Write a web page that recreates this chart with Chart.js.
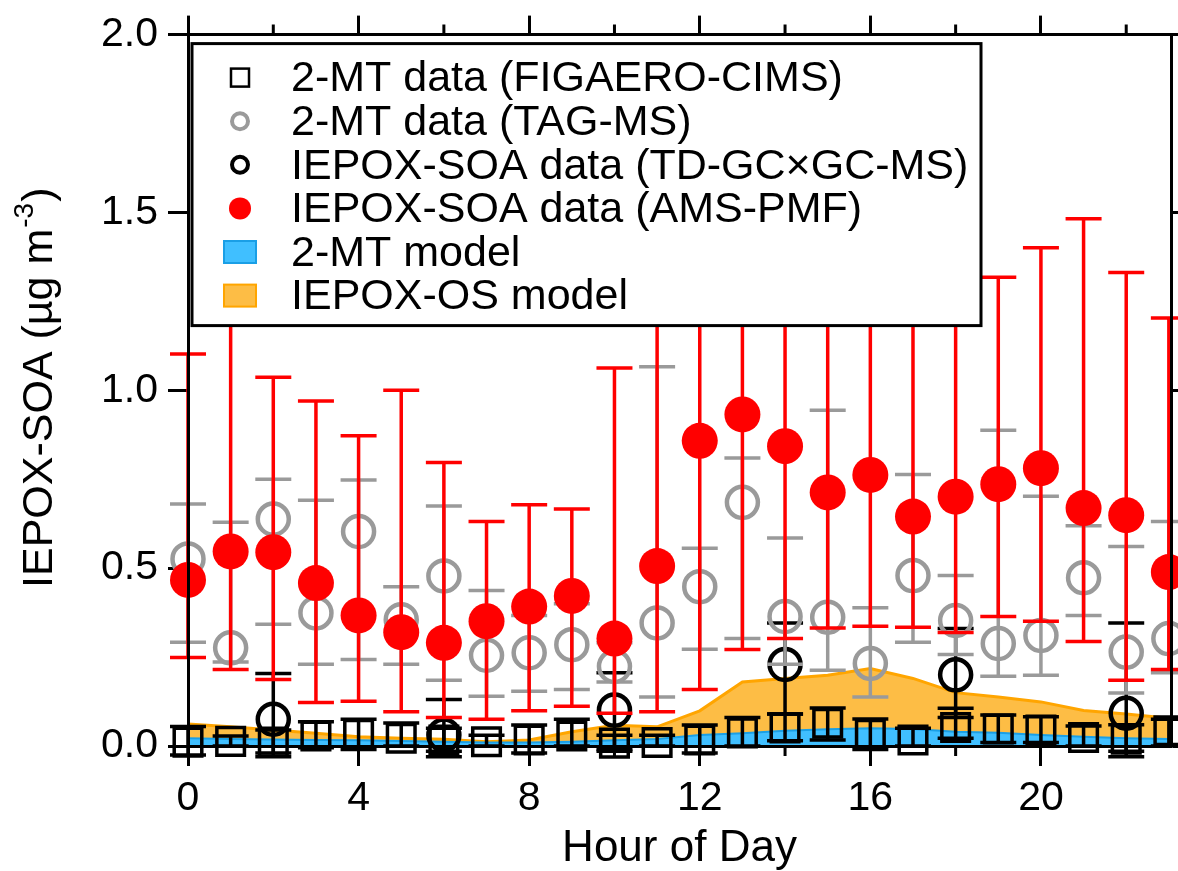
<!DOCTYPE html>
<html lang="en">
<head>
<meta charset="UTF-8">
<title>IEPOX-SOA diurnal cycle</title>
<script src="https://cdn.jsdelivr.net/npm/chart.js"></script>
<style>
  html, body { margin: 0; padding: 0; background: #fff; }
  canvas { display: block; }
</style>
</head>
<body>
<canvas id="soaChart" width="1178" height="871"></canvas>
<script>
// hour of day
const hours = [0,1,2,3,4,5,6,7,8,9,10,11,12,13,14,15,16,17,18,19,20,21,22,23];

// 2-MT data (FIGAERO-CIMS)
const figaero     = [0.011,0.013,0.011,0.028,0.033,0.022,0.017,0.012,0.017,0.028,0.008,0.010,0.017,0.037,0.051,0.064,0.033,0.017,0.052,0.048,0.045,0.024,0.019,0.043];
const figaeroLow  = [-0.025,0.000,-0.020,-0.005,-0.010,0.000,-0.015,0.000,-0.020,0.000,-0.015,0.000,-0.020,0.000,0.015,0.017,-0.010,0.000,0.022,0.010,0.010,0.000,-0.015,0.000];
const figaeroHigh = [0.055,0.028,0.045,0.068,0.075,0.065,0.050,0.030,0.059,0.075,0.030,0.030,0.059,0.080,0.090,0.107,0.076,0.050,0.106,0.087,0.082,0.056,0.060,0.075];

// 2-MT data (TAG-MS)
const tagms     = [0.526,0.276,0.638,0.374,0.603,0.355,0.478,0.255,0.262,0.285,0.224,0.346,0.448,0.685,0.364,0.362,0.232,0.479,0.353,0.288,0.311,0.473,0.264,0.302];
const tagmsLow  = [0.292,0.236,0.342,0.230,0.243,0.230,0.185,0.140,0.154,0.159,0.180,0.138,0.272,0.302,0.230,0.213,0.138,0.292,0.257,0.196,0.199,0.367,0.149,0.206];
const tagmsHigh = [0.680,0.629,0.750,0.691,0.748,0.448,0.675,0.437,0.367,0.400,0.290,1.066,0.556,0.810,0.585,0.944,0.389,0.763,0.479,0.888,0.702,0.619,0.561,0.631];

// IEPOX-SOA data (TD-GCxGC-MS), every 4 h
const tdHours = [2,6,10,14,18,22];
const tdgc     = [0.075,0.031,0.101,0.229,0.200,0.092];
const tdgcLow  = [-0.030,-0.030,-0.010,0.090,0.080,-0.030];
const tdgcHigh = [0.204,0.131,0.206,0.346,0.330,0.346];

// IEPOX-SOA data (AMS-PMF)
const amsPmf     = [0.467,0.547,0.545,0.458,0.367,0.320,0.290,0.351,0.392,0.422,0.302,0.506,0.858,0.932,0.843,0.713,0.762,0.645,0.701,0.736,0.781,0.669,0.649,0.489];
const amsPmfLow  = [0.249,0.215,0.187,0.122,0.126,0.096,0.080,0.075,0.099,0.112,0.092,0.096,0.159,0.271,0.302,0.332,0.337,0.334,0.319,0.364,0.351,0.294,0.185,0.215];
const amsPmfHigh = [1.102,1.250,1.037,0.970,0.872,1.000,0.797,0.631,0.678,0.666,1.063,1.350,1.700,1.800,1.700,1.500,1.550,1.400,1.450,1.318,1.401,1.482,1.331,1.203];

// model results
const mtModel = [0.022,0.020,0.018,0.017,0.016,0.014,0.012,0.010,0.010,0.012,0.016,0.020,0.031,0.036,0.043,0.047,0.050,0.048,0.040,0.037,0.031,0.026,0.022,0.020];
const osModel = [0.062,0.054,0.045,0.036,0.026,0.022,0.019,0.012,0.017,0.040,0.058,0.054,0.099,0.180,0.190,0.199,0.218,0.190,0.150,0.138,0.124,0.100,0.090,0.078];

const yTicks = [0, 0.5, 1.0, 1.5, 2.0];
const xTicks = [0, 4, 8, 12, 16, 20];
const xMinorTicks = [2, 6, 10, 14, 18, 22];

const legendLabels = [
    '2-MT data (FIGAERO-CIMS)',
    '2-MT data (TAG-MS)',
    'IEPOX-SOA data (TD-GC\u00D7GC-MS)',
    'IEPOX-SOA data (AMS-PMF)',
    '2-MT model',
    'IEPOX-OS model'
];

const FONT = '"Liberation Sans", Arial, Helvetica, sans-serif';
const RED = '#ff0000';
const GREY = '#9a9a9a';
const ORANGE_FILL = '#fdbd45';
const ORANGE_LINE = '#ffa500';
const BLUE_FILL = '#40bfff';
const BLUE_LINE = '#1a9fe6';

const toXY = (xs, ys) => xs.map((x, i) => ({ x: x, y: ys[i] }));

// error bars are drawn just before the markers of their own dataset
function drawErrorBars(chart, ds) {
    const ctx = chart.ctx;
    const xs = chart.scales.x, ys = chart.scales.y;
    const half = 18;
    ctx.save();
    ctx.strokeStyle = ds.errColor;
    ctx.lineWidth = 3.5;
    ds.data.forEach((p, i) => {
        const px = xs.getPixelForValue(p.x);
        const top = ys.getPixelForValue(ds.errHigh[i]);
        const bot = ys.getPixelForValue(ds.errLow[i]);
        ctx.beginPath();
        ctx.moveTo(px, top); ctx.lineTo(px, bot);
        ctx.moveTo(px - half, top); ctx.lineTo(px + half, top);
        ctx.moveTo(px - half, bot); ctx.lineTo(px + half, bot);
        ctx.stroke();
    });
    ctx.restore();
}

const errorBarPlugin = {
    id: 'errorBars',
    beforeDatasetDraw(chart, args) {
        const ds = chart.data.datasets[args.index];
        if (ds.errLow) drawErrorBars(chart, ds);
    }
};

// minor ticks, y-axis title and the boxed legend on top of the data
const decorPlugin = {
    id: 'decor',
    afterDraw(chart) {
        const ctx = chart.ctx;
        const area = chart.chartArea;
        const xs = chart.scales.x;
        ctx.save();

        // minor ticks on bottom and top axes
        ctx.strokeStyle = '#000';
        ctx.lineWidth = 3;
        xMinorTicks.forEach(h => {
            const px = xs.getPixelForValue(h);
            ctx.beginPath();
            ctx.moveTo(px, area.bottom); ctx.lineTo(px, area.bottom + 10);
            ctx.moveTo(px, area.top); ctx.lineTo(px, area.top - 10);
            ctx.stroke();
        });

        // y title with superscript
        ctx.save();
        ctx.translate(40, 588);
        ctx.rotate(-Math.PI / 2);
        ctx.fillStyle = '#000';
        ctx.textBaseline = 'middle';
        ctx.textAlign = 'left';
        ctx.font = '43px ' + FONT;
        const main = 'IEPOX-SOA (\u00B5g m';
        ctx.fillText(main, 0, 0);
        let w = ctx.measureText(main).width;
        ctx.font = '28px ' + FONT;
        ctx.fillText('-3', w + 1, -15);
        w += ctx.measureText('-3').width + 2;
        ctx.font = '43px ' + FONT;
        ctx.fillText(')', w, 0);
        ctx.restore();

        // legend box
        const lx = area.left + 4, ly = area.top + 9;
        const lw = 789, lh = 282;
        ctx.fillStyle = '#fff';
        ctx.fillRect(lx, ly, lw, lh);
        ctx.strokeStyle = '#000';
        ctx.lineWidth = 3;
        ctx.strokeRect(lx, ly, lw, lh);

        const sx = lx + 48, tx = lx + 99;
        legendLabels.forEach((label, i) => {
            const cy = ly + 34 + i * 43.6;
            ctx.lineWidth = 3;
            if (i === 0) {
                ctx.strokeStyle = '#000';
                ctx.lineWidth = 2.5;
                ctx.strokeRect(sx - 9, cy - 9, 18, 18);
            } else if (i === 1 || i === 2) {
                ctx.strokeStyle = i === 1 ? GREY : '#000';
                ctx.lineWidth = 4;
                ctx.beginPath(); ctx.arc(sx, cy, 8, 0, 2 * Math.PI); ctx.stroke();
            } else if (i === 3) {
                ctx.fillStyle = RED;
                ctx.beginPath(); ctx.arc(sx, cy, 11, 0, 2 * Math.PI); ctx.fill();
            } else {
                ctx.fillStyle = i === 4 ? BLUE_FILL : ORANGE_FILL;
                ctx.strokeStyle = i === 4 ? BLUE_LINE : ORANGE_LINE;
                ctx.lineWidth = 2;
                ctx.fillRect(sx - 16, cy - 11, 32, 22);
                ctx.strokeRect(sx - 16, cy - 11, 32, 22);
            }
            ctx.fillStyle = '#000';
            ctx.font = '43px ' + FONT;
            ctx.textBaseline = 'middle';
            ctx.textAlign = 'left';
            ctx.fillText(label, tx, cy + 2);
        });
        ctx.restore();
    }
};

const tickFont = { family: FONT, size: 41 };
const axisBorder = { color: '#000', width: 3, z: 1 };

new Chart(document.getElementById('soaChart'), {
    type: 'line',
    data: {
        datasets: [
            {
                label: legendLabels[3],
                data: toXY(hours, amsPmf),
                showLine: false,
                pointStyle: 'circle',
                pointRadius: 18,
                pointBackgroundColor: RED,
                pointBorderColor: RED,
                pointBorderWidth: 0,
                errLow: amsPmfLow, errHigh: amsPmfHigh, errColor: RED,
                clip: false,
                order: 1
            },
            {
                label: legendLabels[1],
                data: toXY(hours, tagms),
                showLine: false,
                pointStyle: 'circle',
                pointRadius: 15.5,
                pointBackgroundColor: 'rgba(0,0,0,0)',
                pointBorderColor: GREY,
                pointBorderWidth: 4.5,
                errLow: tagmsLow, errHigh: tagmsHigh, errColor: GREY,
                clip: false,
                order: 2
            },
            {
                label: legendLabels[2],
                data: toXY(tdHours, tdgc),
                showLine: false,
                pointStyle: 'circle',
                pointRadius: 15.5,
                pointBackgroundColor: 'rgba(0,0,0,0)',
                pointBorderColor: '#000',
                pointBorderWidth: 4.5,
                errLow: tdgcLow, errHigh: tdgcHigh, errColor: '#000',
                clip: false,
                order: 3
            },
            {
                label: legendLabels[0],
                data: toXY(hours, figaero),
                showLine: false,
                pointStyle: 'rect',
                pointRadius: 19.5,
                pointBackgroundColor: 'rgba(0,0,0,0)',
                pointBorderColor: '#000',
                pointBorderWidth: 3.5,
                errLow: figaeroLow, errHigh: figaeroHigh, errColor: '#000',
                clip: false,
                order: 4
            },
            {
                label: legendLabels[4],
                data: toXY(hours, mtModel),
                borderColor: BLUE_LINE,
                borderWidth: 2,
                backgroundColor: BLUE_FILL,
                fill: 'origin',
                pointRadius: 0,
                tension: 0,
                order: 5
            },
            {
                label: legendLabels[5],
                data: toXY(hours, osModel),
                borderColor: ORANGE_LINE,
                borderWidth: 3,
                backgroundColor: ORANGE_FILL,
                fill: 'origin',
                pointRadius: 0,
                tension: 0,
                order: 6
            }
        ]
    },
    options: {
        responsive: false,
        animation: false,
        events: [],
        layout: { padding: 0, autoPadding: false },
        plugins: {
            legend: { display: false },
            tooltip: { enabled: false }
        },
        scales: {
            x: {
                type: 'linear',
                position: 'bottom',
                min: 0,
                max: 23.05,
                afterBuildTicks: s => { s.ticks = xTicks.map(v => ({ value: v })); },
                ticks: { font: tickFont, color: '#000', padding: 8, maxRotation: 0, autoSkip: false },
                grid: { drawOnChartArea: false, tickLength: 20, tickWidth: 3, tickColor: '#000' },
                border: axisBorder,
                title: {
                    display: true,
                    text: 'Hour of Day',
                    color: '#000',
                    font: { family: FONT, size: 44, lineHeight: 1 },
                    padding: 0
                },
                afterFit: s => { s.height = 125; }
            },
            x2: {
                type: 'linear',
                position: 'top',
                min: 0,
                max: 23.05,
                afterBuildTicks: s => { s.ticks = xTicks.map(v => ({ value: v })); },
                ticks: { display: false },
                grid: { drawOnChartArea: false, tickLength: 19, tickWidth: 3, tickColor: '#000' },
                border: axisBorder,
                afterFit: s => { s.height = 32; }
            },
            y: {
                min: 0,
                max: 2,
                afterBuildTicks: s => { s.ticks = yTicks.map(v => ({ value: v })); },
                ticks: { font: tickFont, color: '#000', padding: 10, callback: v => v.toFixed(1) },
                grid: { drawOnChartArea: false, tickLength: 20, tickWidth: 3, tickColor: '#000' },
                border: axisBorder,
                afterFit: s => { s.width = 188; }
            },
            y2: {
                position: 'right',
                min: 0,
                max: 2,
                afterBuildTicks: s => { s.ticks = yTicks.map(v => ({ value: v })); },
                ticks: { display: false },
                grid: { drawOnChartArea: false, tickLength: 20, tickWidth: 3, tickColor: '#000' },
                border: axisBorder,
                afterFit: s => { s.width = 7; }
            }
        }
    },
    plugins: [errorBarPlugin, decorPlugin]
});
</script>
</body>
</html>
